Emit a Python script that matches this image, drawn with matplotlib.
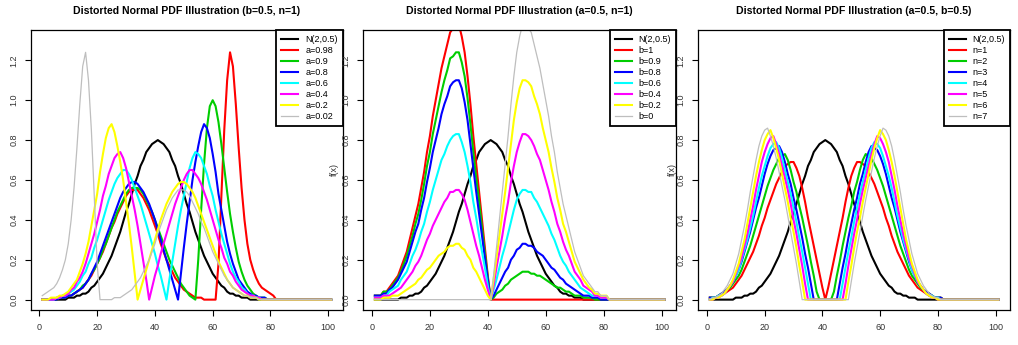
import matplotlib
matplotlib.use("Agg")
import matplotlib.pyplot as plt
import numpy as np

plt.rcParams['font.family'] = ['Liberation Sans', 'DejaVu Sans']

# grid index 1..101 (R plots the density vector against its index)
idx = np.arange(1, 102)

norm_ref = [0, 0, 0, 0, 0, 0, 0, 0, 0, 1,
            1, 1, 2, 2, 3, 3, 4, 6, 7, 9,
            11, 13, 16, 19, 22, 26, 30, 34, 39, 44,
            48, 53, 58, 62, 67, 70, 74, 76, 78, 79,
            80, 79, 78, 76, 74, 70, 67, 62, 58, 53,
            48, 44, 39, 34, 30, 26, 22, 19, 16, 13,
            11, 9, 7, 6, 4, 3, 3, 2, 2, 1,
            1, 1, 0, 0, 0, 0, 0, 0, 0, 0,
            0, 0, 0, 0, 0, 0, 0, 0, 0, 0,
            0, 0, 0, 0, 0, 0, 0, 0, 0, 0,
            0]

# --- panel 1: b=0.5, n=1, varying a ---
a_labels = ["a=0.98", "a=0.9", "a=0.8", "a=0.6", "a=0.4", "a=0.2", "a=0.02"]
a_098 = [0, 0, 0, 0, 0, 0, 1, 1, 1, 2,
         2, 3, 4, 5, 6, 8, 10, 12, 15, 18,
         21, 24, 28, 32, 36, 39, 43, 46, 49, 52,
         54, 55, 55, 55, 53, 51, 48, 45, 41, 37,
         33, 28, 24, 20, 17, 14, 11, 9, 7, 5,
         4, 3, 2, 1, 1, 1, 0, 0, 0, 0,
         0, 18, 52, 85, 110, 124, 117, 98, 76, 56,
         40, 28, 20, 15, 11, 8, 6, 5, 4, 3,
         2, 0, 0, 0, 0, 0, 0, 0, 0, 0,
         0, 0, 0, 0, 0, 0, 0, 0, 0, 0,
         0]
a_09 = [0, 0, 0, 0, 0, 0, 1, 1, 1, 2,
        2, 3, 4, 5, 7, 8, 10, 13, 15, 18,
        21, 25, 28, 32, 36, 40, 44, 47, 50, 53,
        55, 56, 56, 56, 55, 53, 50, 47, 44, 40,
        36, 32, 28, 24, 20, 17, 14, 11, 8, 6,
        4, 2, 1, 0, 20, 45, 68, 86, 97, 100,
        97, 89, 78, 66, 54, 43, 34, 26, 19, 14,
        10, 7, 5, 3, 2, 1, 1, 1, 0, 0,
        0, 0, 0, 0, 0, 0, 0, 0, 0, 0,
        0, 0, 0, 0, 0, 0, 0, 0, 0, 0,
        0]
a_08 = [0, 0, 0, 0, 0, 0, 1, 1, 1, 2,
        2, 3, 4, 5, 6, 8, 10, 13, 16, 19,
        23, 27, 31, 35, 39, 43, 47, 51, 54, 56,
        58, 59, 59, 58, 56, 54, 51, 48, 44, 40,
        35, 30, 25, 20, 15, 10, 5, 0, 13, 26,
        38, 49, 60, 69, 77, 84, 88, 86, 81, 73,
        64, 53, 45, 37, 29, 23, 18, 14, 10, 8,
        6, 4, 3, 2, 2, 1, 1, 1, 0, 0,
        0, 0, 0, 0, 0, 0, 0, 0, 0, 0,
        0, 0, 0, 0, 0, 0, 0, 0, 0, 0,
        0]
a_06 = [0, 0, 0, 0, 0, 1, 1, 2, 2, 3,
        4, 5, 7, 9, 12, 14, 18, 21, 26, 30,
        35, 40, 45, 50, 54, 58, 61, 63, 65, 65,
        63, 60, 56, 52, 48, 43, 38, 33, 28, 23,
        17, 12, 6, 0, 10, 19, 28, 37, 45, 52,
        59, 66, 71, 74, 73, 71, 67, 63, 57, 52,
        45, 39, 33, 28, 23, 18, 14, 11, 9, 6,
        5, 3, 2, 2, 1, 1, 0, 0, 0, 0,
        0, 0, 0, 0, 0, 0, 0, 0, 0, 0,
        0, 0, 0, 0, 0, 0, 0, 0, 0, 0,
        0]
a_04 = [0, 0, 0, 0, 0, 1, 1, 2, 2, 3,
        5, 6, 9, 11, 14, 18, 23, 28, 33, 39,
        45, 52, 57, 63, 67, 71, 73, 74, 71, 66,
        59, 52, 45, 37, 28, 19, 10, 0, 6, 12,
        17, 23, 28, 33, 38, 43, 48, 52, 56, 60,
        63, 65, 65, 63, 61, 58, 54, 50, 45, 40,
        35, 30, 26, 21, 18, 14, 12, 9, 7, 5,
        4, 3, 2, 2, 1, 1, 0, 0, 0, 0,
        0, 0, 0, 0, 0, 0, 0, 0, 0, 0,
        0, 0, 0, 0, 0, 0, 0, 0, 0, 0,
        0]
a_02 = [0, 0, 0, 1, 1, 1, 2, 2, 3, 4,
        6, 8, 10, 14, 18, 23, 29, 37, 45, 53,
        64, 73, 81, 86, 88, 84, 77, 69, 60, 49,
        38, 26, 13, 0, 5, 10, 15, 20, 25, 30,
        35, 40, 44, 48, 51, 54, 56, 58, 59, 59,
        58, 56, 54, 51, 47, 43, 39, 35, 31, 27,
        23, 19, 16, 13, 10, 8, 6, 5, 4, 3,
        2, 2, 1, 1, 1, 0, 0, 0, 0, 0,
        0, 0, 0, 0, 0, 0, 0, 0, 0, 0,
        0, 0, 0, 0, 0, 0, 0, 0, 0, 0,
        0]
a_002 = [2, 3, 4, 5, 6, 8, 11, 15, 20, 28,
         40, 56, 76, 98, 117, 124, 110, 85, 52, 18,
         0, 0, 0, 0, 0, 1, 1, 1, 2, 3,
         4, 5, 7, 9, 11, 14, 17, 20, 24, 28,
         33, 37, 41, 45, 48, 51, 53, 55, 55, 55,
         54, 52, 49, 46, 43, 39, 36, 32, 28, 24,
         21, 18, 15, 12, 10, 8, 6, 5, 4, 3,
         2, 2, 1, 1, 1, 0, 0, 0, 0, 0,
         0, 0, 0, 0, 0, 0, 0, 0, 0, 0,
         0, 0, 0, 0, 0, 0, 0, 0, 0, 0,
         0]

# --- panel 2: a=0.5, n=1, varying b ---
b_labels = ["b=1", "b=0.9", "b=0.8", "b=0.6", "b=0.4", "b=0.2", "b=0"]
b_1 = [2, 2, 2, 4, 4, 6, 8, 10, 12, 16,
       20, 24, 30, 36, 42, 48, 56, 64, 74, 82,
       92, 100, 108, 116, 122, 128, 134, 136, 138, 138,
       132, 124, 112, 98, 82, 68, 54, 40, 26, 12,
       0, 0, 0, 0, 0, 0, 0, 0, 0, 0,
       0, 0, 0, 0, 0, 0, 0, 0, 0, 0,
       0, 0, 0, 0, 0, 0, 0, 0, 0, 0,
       0, 0, 0, 0, 0, 0, 0, 0, 0, 0,
       0, 0, 0, 0, 0, 0, 0, 0, 0, 0,
       0, 0, 0, 0, 0, 0, 0, 0, 0, 0,
       0]
b_09 = [2, 2, 2, 4, 4, 5, 7, 9, 11, 14,
        18, 22, 27, 32, 38, 43, 50, 58, 67, 74,
        83, 90, 97, 104, 110, 115, 121, 122, 124, 124,
        119, 112, 101, 88, 74, 61, 49, 36, 23, 11,
        0, 1, 3, 4, 5, 7, 8, 10, 11, 12,
        13, 14, 14, 14, 13, 13, 12, 12, 11, 10,
        9, 8, 7, 6, 6, 5, 4, 4, 3, 2,
        2, 2, 1, 1, 1, 1, 0, 0, 0, 0,
        0, 0, 0, 0, 0, 0, 0, 0, 0, 0,
        0, 0, 0, 0, 0, 0, 0, 0, 0, 0,
        0]
b_08 = [2, 2, 2, 3, 3, 5, 6, 8, 10, 13,
        16, 19, 24, 29, 34, 38, 45, 51, 59, 66,
        74, 80, 86, 93, 98, 102, 107, 109, 110, 110,
        106, 99, 90, 78, 66, 54, 43, 32, 21, 10,
        0, 2, 5, 8, 11, 14, 16, 20, 22, 25,
        26, 28, 28, 27, 27, 26, 24, 23, 22, 20,
        18, 16, 15, 13, 11, 10, 8, 7, 6, 5,
        4, 3, 2, 2, 2, 1, 1, 1, 0, 0,
        0, 0, 0, 0, 0, 0, 0, 0, 0, 0,
        0, 0, 0, 0, 0, 0, 0, 0, 0, 0,
        0]
b_06 = [1, 1, 1, 2, 2, 4, 5, 6, 7, 10,
        12, 14, 18, 22, 25, 29, 34, 38, 44, 49,
        55, 60, 65, 70, 73, 77, 80, 82, 83, 83,
        79, 74, 67, 59, 49, 41, 32, 24, 16, 7,
        0, 5, 10, 16, 22, 27, 33, 39, 45, 50,
        53, 55, 55, 54, 54, 51, 49, 46, 43, 40,
        37, 33, 30, 26, 22, 19, 17, 14, 12, 10,
        8, 6, 5, 4, 3, 2, 2, 2, 1, 1,
        1, 0, 0, 0, 0, 0, 0, 0, 0, 0,
        0, 0, 0, 0, 0, 0, 0, 0, 0, 0,
        0]
b_04 = [1, 1, 1, 2, 2, 2, 3, 4, 5, 6,
        8, 10, 12, 14, 17, 19, 22, 26, 30, 33,
        37, 40, 43, 46, 49, 51, 54, 54, 55, 55,
        53, 50, 45, 39, 33, 27, 22, 16, 10, 5,
        0, 7, 16, 24, 32, 41, 49, 59, 67, 74,
        79, 83, 83, 82, 80, 77, 73, 70, 65, 60,
        55, 49, 44, 38, 34, 29, 25, 22, 18, 14,
        12, 10, 7, 6, 5, 4, 2, 2, 1, 1,
        1, 0, 0, 0, 0, 0, 0, 0, 0, 0,
        0, 0, 0, 0, 0, 0, 0, 0, 0, 0,
        0]
b_02 = [0, 0, 0, 1, 1, 1, 2, 2, 2, 3,
        4, 5, 6, 7, 8, 10, 11, 13, 15, 16,
        18, 20, 22, 23, 24, 26, 27, 27, 28, 28,
        26, 25, 22, 20, 16, 14, 11, 8, 5, 2,
        0, 10, 21, 32, 43, 54, 66, 78, 90, 99,
        106, 110, 110, 109, 107, 102, 98, 93, 86, 80,
        74, 66, 59, 51, 45, 38, 34, 29, 24, 19,
        16, 13, 10, 8, 6, 5, 3, 3, 2, 2,
        2, 0, 0, 0, 0, 0, 0, 0, 0, 0,
        0, 0, 0, 0, 0, 0, 0, 0, 0, 0,
        0]
b_0 = [0, 0, 0, 0, 0, 0, 0, 0, 0, 0,
       0, 0, 0, 0, 0, 0, 0, 0, 0, 0,
       0, 0, 0, 0, 0, 0, 0, 0, 0, 0,
       0, 0, 0, 0, 0, 0, 0, 0, 0, 0,
       0, 12, 26, 40, 54, 68, 82, 98, 112, 124,
       132, 138, 138, 136, 134, 128, 122, 116, 108, 100,
       92, 82, 74, 64, 56, 48, 42, 36, 30, 24,
       20, 16, 12, 10, 8, 6, 4, 4, 2, 2,
       2, 0, 0, 0, 0, 0, 0, 0, 0, 0,
       0, 0, 0, 0, 0, 0, 0, 0, 0, 0,
       0]

# --- panel 3: a=0.5, b=0.5, varying n ---
n_labels = ["n=1", "n=2", "n=3", "n=4", "n=5", "n=6", "n=7"]
n_1 = [1, 1, 1, 2, 2, 3, 4, 5, 6, 8,
       10, 12, 15, 18, 21, 24, 28, 32, 37, 41,
       46, 50, 54, 58, 61, 64, 67, 68, 69, 69,
       66, 62, 56, 49, 41, 34, 27, 20, 13, 6,
       0, 6, 13, 20, 27, 34, 41, 49, 56, 62,
       66, 69, 69, 68, 67, 64, 61, 58, 54, 50,
       46, 41, 37, 32, 28, 24, 21, 18, 15, 12,
       10, 8, 6, 5, 4, 3, 2, 2, 1, 1,
       1, 0, 0, 0, 0, 0, 0, 0, 0, 0,
       0, 0, 0, 0, 0, 0, 0, 0, 0, 0,
       0]
n_2 = [1, 1, 1, 2, 3, 4, 5, 6, 8, 10,
       12, 15, 19, 23, 27, 32, 37, 42, 47, 52,
       57, 61, 65, 68, 71, 72, 73, 70, 65, 59,
       54, 47, 41, 34, 27, 19, 12, 4, 0, 0,
       0, 0, 0, 4, 12, 19, 27, 34, 41, 47,
       54, 59, 65, 70, 73, 72, 71, 68, 65, 61,
       57, 52, 47, 42, 37, 32, 27, 23, 19, 15,
       12, 10, 8, 6, 5, 4, 3, 2, 1, 1,
       1, 0, 0, 0, 0, 0, 0, 0, 0, 0,
       0, 0, 0, 0, 0, 0, 0, 0, 0, 0,
       0]
n_3 = [1, 1, 1, 2, 3, 4, 5, 7, 9, 12,
       15, 19, 24, 29, 34, 40, 46, 51, 57, 63,
       68, 72, 75, 76, 77, 74, 69, 63, 58, 51,
       45, 38, 31, 23, 16, 8, 0, 0, 0, 0,
       0, 0, 0, 0, 0, 8, 16, 23, 31, 38,
       45, 51, 58, 63, 69, 74, 77, 76, 75, 72,
       68, 63, 57, 51, 46, 40, 34, 29, 24, 19,
       15, 12, 9, 7, 5, 4, 3, 2, 1, 1,
       1, 0, 0, 0, 0, 0, 0, 0, 0, 0,
       0, 0, 0, 0, 0, 0, 0, 0, 0, 0,
       0]
n_4 = [0, 1, 1, 2, 2, 3, 5, 7, 9, 12,
       15, 20, 25, 30, 36, 42, 49, 56, 62, 67,
       72, 76, 78, 79, 76, 71, 65, 59, 53, 46,
       39, 31, 24, 16, 8, 0, 0, 0, 0, 0,
       0, 0, 0, 0, 0, 0, 8, 16, 24, 31,
       39, 46, 53, 59, 65, 71, 76, 79, 78, 76,
       72, 67, 62, 56, 49, 42, 36, 30, 25, 20,
       15, 12, 9, 7, 5, 3, 2, 2, 1, 1,
       0, 0, 0, 0, 0, 0, 0, 0, 0, 0,
       0, 0, 0, 0, 0, 0, 0, 0, 0, 0,
       0]
n_5 = [0, 0, 1, 1, 2, 3, 5, 7, 9, 13,
       17, 21, 27, 33, 40, 47, 55, 62, 69, 74,
       78, 81, 82, 78, 73, 67, 61, 55, 48, 40,
       33, 25, 17, 8, 0, 0, 0, 0, 0, 0,
       0, 0, 0, 0, 0, 0, 0, 8, 17, 25,
       33, 40, 48, 55, 61, 67, 73, 78, 82, 81,
       78, 74, 69, 62, 55, 47, 40, 33, 27, 21,
       17, 13, 9, 7, 5, 3, 2, 1, 1, 0,
       0, 0, 0, 0, 0, 0, 0, 0, 0, 0,
       0, 0, 0, 0, 0, 0, 0, 0, 0, 0,
       0]
n_6 = [0, 0, 1, 1, 2, 3, 5, 7, 10, 14,
       18, 24, 30, 38, 46, 54, 62, 69, 75, 80,
       83, 85, 81, 76, 70, 63, 56, 49, 41, 34,
       26, 17, 9, 0, 0, 0, 0, 0, 0, 0,
       0, 0, 0, 0, 0, 0, 0, 0, 9, 17,
       26, 34, 41, 49, 56, 63, 70, 76, 81, 85,
       83, 80, 75, 69, 62, 54, 46, 38, 30, 24,
       18, 14, 10, 7, 5, 3, 2, 1, 1, 0,
       0, 0, 0, 0, 0, 0, 0, 0, 0, 0,
       0, 0, 0, 0, 0, 0, 0, 0, 0, 0,
       0]
n_7 = [0, 1, 1, 2, 3, 5, 7, 10, 13, 18,
       23, 30, 37, 45, 54, 62, 70, 77, 82, 85,
       86, 82, 77, 71, 64, 57, 50, 42, 34, 26,
       18, 9, 0, 0, 0, 0, 0, 0, 0, 0,
       0, 0, 0, 0, 0, 0, 0, 0, 0, 9,
       18, 26, 34, 42, 50, 57, 64, 71, 77, 82,
       86, 85, 82, 77, 70, 62, 54, 45, 37, 30,
       23, 18, 13, 10, 7, 5, 3, 2, 1, 1,
       0, 0, 0, 0, 0, 0, 0, 0, 0, 0,
       0, 0, 0, 0, 0, 0, 0, 0, 0, 0,
       0]

titles = ["Distorted Normal PDF Illustration (b=0.5, n=1)",
          "Distorted Normal PDF Illustration (a=0.5, n=1)",
          "Distorted Normal PDF Illustration (a=0.5, b=0.5)"]

# R default palette colours: black, red, green3, blue, cyan, magenta, yellow, gray
colors = ["black", "#FF0000", "#00CD00", "#0000FF", "#00FFFF", "#FF00FF", "#FFFF00", "#BEBEBE"]
widths = [1.5, 1.5, 1.5, 1.5, 1.5, 1.5, 1.5, 0.9]

panels = [
    ([norm_ref, a_098, a_09, a_08, a_06, a_04, a_02, a_002], ["N(2,0.5)"] + a_labels),
    ([norm_ref, b_1, b_09, b_08, b_06, b_04, b_02, b_0], ["N(2,0.5)"] + b_labels),
    ([norm_ref, n_1, n_2, n_3, n_4, n_5, n_6, n_7], ["N(2,0.5)"] + n_labels),
]

W, H = 1018, 345
fig = plt.figure(figsize=(W / 100, H / 100), dpi=100)

# plot boxes in pixels: left, right (top=30, bottom=310)
boxes = [(30.7, 342.7), (363.3, 676.0), (698.3, 1010.0)]
# where the f(x) label of each panel sits (axes fraction); panel 1's is off the image
ylab_x = [None, -0.079, -0.068]

for k, ((series, labels), (x0, x1)) in enumerate(zip(panels, boxes)):
    ax = fig.add_axes([x0 / W, 1 - 310 / H, (x1 - x0) / W, 280 / H])
    for ys, lab, c, lw in zip(series, labels, colors, widths):
        ax.plot(idx, np.array(ys) / 100, color=c, lw=lw, label=lab)

    # R style axes: 4% padding, ticks out, rotated y labels
    ax.set_xlim(-3, 105)
    ax.set_ylim(-0.052, 1.352)
    ax.set_xticks([0, 20, 40, 60, 80, 100])
    yt = [0.0, 0.2, 0.4, 0.6, 0.8, 1.0, 1.2]
    ax.set_yticks(yt)
    ax.set_yticklabels([f"{v:.1f}" for v in yt])
    ax.tick_params(direction='out', length=4, width=0.8, labelsize=6.5,
                   labelcolor='#333333')
    ax.tick_params(axis='x', pad=5)
    ax.tick_params(axis='y', labelrotation=90, pad=5)
    for lab in ax.get_yticklabels():
        lab.set_va('center')
    for sp in ax.spines.values():
        sp.set_linewidth(0.9)

    ax.set_title(titles[k], fontsize=7.6, fontweight='bold', pad=11.5)

    if ylab_x[k] is not None:
        ax.set_ylabel("f(x)", fontsize=6.5, color='#333333')
        ax.yaxis.set_label_coords(ylab_x[k], 0.5)

    leg = ax.legend(loc='upper right', fontsize=6.5, frameon=True, fancybox=False,
                    edgecolor='black', framealpha=1, borderaxespad=0,
                    handlelength=1.9, handletextpad=0.75, labelspacing=0.22,
                    borderpad=0.55)
    leg.get_frame().set_linewidth(1.3)

fig.savefig("out.png", dpi=100)
